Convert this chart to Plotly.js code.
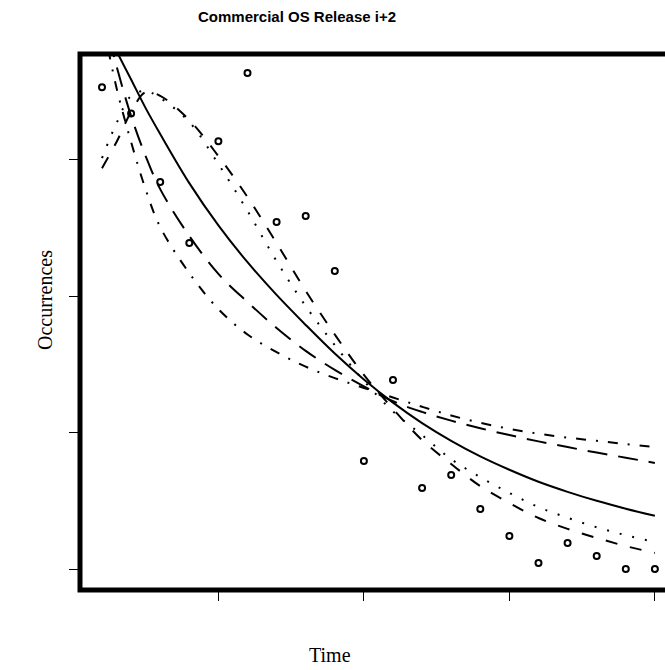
<!DOCTYPE html>
<html>
<head>
<meta charset="utf-8">
<script src="https://cdn.plot.ly/plotly-3.0.1.min.js"></script>
<style>
html, body { margin: 0; padding: 0; overflow: hidden; background: #fff; }
#chart { width: 690px; height: 670px; }
</style>
</head>
<body>
<div id="chart"></div>
<script>
// Observed data (time index and occurrences, in tick units)
var timePoints = [1, 2, 3, 4, 5, 6, 7, 8, 9, 10, 11, 12, 13, 14, 15, 16, 17, 18, 19, 20];
var occurrences = [17.67, 16.7, 14.19, 11.95, 15.69, 18.19, 12.72, 12.94, 10.93, 3.96, 6.93, 2.97, 3.45, 2.2, 1.21, 0.22, 0.95, 0.48, 0, 0];

// Fitted curves at these time values
var curveTime = [1, 1.5, 2, 2.5, 3, 4, 5, 6, 7, 8, 9, 10, 11, 12, 13, 14, 15, 16, 17, 18, 19, 20];
var solidCurve = [20.2, 19.0, 17.95, 16.9, 15.95, 14.15, 12.6, 11.25, 10.05, 8.95, 7.9, 6.95, 6.1, 5.35, 4.7, 4.13, 3.64, 3.2, 2.83, 2.5, 2.21, 1.95];
var longDashCurve = [20.6, 18.44, 16.61, 15.14, 13.93, 12.21, 10.82, 9.79, 8.84, 8.0, 7.3, 6.7, 6.15, 5.76, 5.44, 5.16, 4.91, 4.68, 4.47, 4.27, 4.08, 3.89];
var dashDotCurve = [20.2, 17.64, 15.66, 13.92, 12.54, 10.85, 9.53, 8.6, 7.95, 7.42, 7.0, 6.64, 6.29, 5.95, 5.63, 5.36, 5.14, 4.96, 4.82, 4.7, 4.58, 4.47];
var dashedHumpCurve = [14.7, 15.66, 16.76, 17.49, 17.35, 16.46, 15.14, 13.64, 11.95, 10.2, 8.6, 7.12, 5.87, 4.73, 3.85, 3.04, 2.42, 1.87, 1.47, 1.14, 0.84, 0.59];
var dottedHumpCurve = [15.07, 16.35, 17.35, 17.53, 17.27, 16.39, 14.85, 13.13, 11.29, 9.64, 8.21, 6.9, 5.78, 4.91, 4.03, 3.37, 2.79, 2.27, 1.88, 1.53, 1.24, 0.99];

var xTicks = [5, 10, 15, 20];
var yTicks = [0, 5, 10, 15];

function curve(y, dash) {
  return {
    x: curveTime, y: y, type: 'scatter', mode: 'lines',
    line: { color: '#000', width: 2, dash: dash, shape: 'spline', smoothing: 1 },
    hoverinfo: 'skip', showlegend: false
  };
}

var traces = [
  curve(solidCurve, 'solid'),
  curve(longDashCurve, '20px,11px'),
  curve(dashDotCurve, '10px,10px,2px,10px'),
  curve(dashedHumpCurve, '12px,13px'),
  curve(dottedHumpCurve, '2px,11px'),
  {
    x: timePoints, y: occurrences, type: 'scatter', mode: 'markers',
    marker: { symbol: 'circle-open', size: 6, color: '#000', line: { color: '#000', width: 2 } },
    showlegend: false, cliponaxis: false
  }
];

var W = 690, H = 670, L = 80, R = 13, T = 54, B = 80;
var pw = W - L - R, ph = H - T - B;

var layout = {
  width: W, height: H,
  margin: { l: L, r: R, t: T, b: B, pad: 0 },
  paper_bgcolor: '#fff', plot_bgcolor: '#fff',
  showlegend: false,
  title: {
    text: '<b>Commercial OS Release i+2</b>',
    xref: 'container', yref: 'container',
    x: 297 / W, xanchor: 'center',
    y: 1 - 17 / H, yanchor: 'middle',
    font: { family: 'Liberation Sans, Arial, sans-serif', size: 15, color: '#000' }
  },
  xaxis: {
    range: [0.244, 20.76], tickvals: xTicks, showticklabels: false,
    ticks: 'outside', ticklen: 10, tickwidth: 1, tickcolor: '#000',
    showgrid: false, zeroline: false, showline: false
  },
  yaxis: {
    range: [-0.77, 18.885], tickvals: yTicks, showticklabels: false,
    ticks: 'outside', ticklen: 10, tickwidth: 1, tickcolor: '#000',
    showgrid: false, zeroline: false, showline: false
  },
  shapes: [{
    type: 'rect', xref: 'paper', yref: 'paper', x0: 0, x1: 1, y0: 0, y1: 1,
    line: { color: '#000', width: 5 }, fillcolor: 'rgba(0,0,0,0)', layer: 'above'
  }],
  annotations: [
    {
      text: 'Time', xref: 'paper', yref: 'paper',
      x: (330 - L) / pw, y: (H - B - 655) / ph, xanchor: 'center', yanchor: 'middle',
      showarrow: false,
      font: { family: 'Liberation Serif, Times New Roman, serif', size: 20, color: '#000' }
    },
    {
      text: 'Occurrences', xref: 'paper', yref: 'paper',
      x: (45 - L) / pw, y: (H - B - 300) / ph, xanchor: 'center', yanchor: 'middle',
      textangle: -90, showarrow: false,
      font: { family: 'Liberation Serif, Times New Roman, serif', size: 20, color: '#000' }
    }
  ]
};

Plotly.newPlot('chart', traces, layout, { staticPlot: true, displayModeBar: false });
</script>
</body>
</html>
